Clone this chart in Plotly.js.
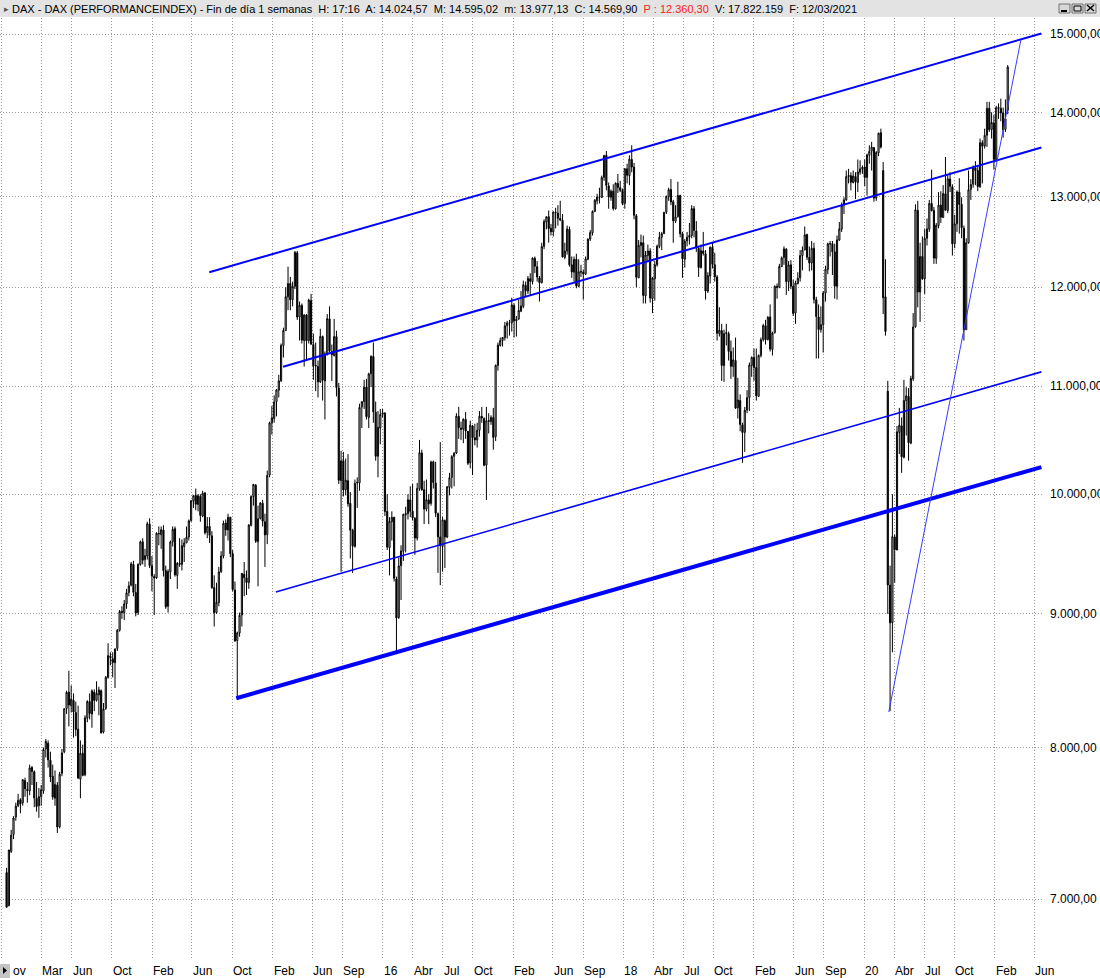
<!DOCTYPE html>
<html><head><meta charset="utf-8">
<script src="https://cdn.plot.ly/plotly-3.0.1.min.js"></script>
<style>html,body{margin:0;padding:0;background:#fff}#chart{width:1100px;height:978px}</style>
</head><body><div id="chart"></div>
<script>
// ---------------- DATA (weekly DAX bars, Friday dates from 2012-11-16) ----------------
const firstWeekFriday = '2012-11-16';
const open = [
/*2012*/ 7165,6960,7300,7410,7525,7600,7640,
/*2013*/ 7620,7770,7710,7700,7860,7830,7650,7600,7660,7700,7990,8030,7910,7800,7650,7740,7460,7820,7970,8280,8400,8300,8340,8250,8130,7780,7960,7810,8210,8330,8240,8400,8340,8380,8410,8110,8280,8510,8670,8650,8620,8730,8870,9020,9010,9080,9170,9230,9400,9170,9010,9400,
/*2014*/ 9590,9440,9470,9740,9390,9300,9290,9660,9650,9690,9350,9060,9340,9590,9700,9310,9410,9400,9550,9580,9630,9770,9940,9990,9910,9980,9810,10010,9670,9720,9640,9210,9010,9090,9340,9470,9750,9690,9800,9490,9190,8790,8850,8990,9320,9290,9250,9730,9980,10080,9590,9790,
/*2015*/ 9920,9760,9650,10170,10650,10690,10850,10960,11050,11400,11550,11900,12040,11870,12010,12370,11690,11810,11450,11710,11450,11860,11410,11200,11190,11040,11490,11050,11320,11670,11340,11300,11490,10980,10120,10300,10040,10120,9920,9690,9550,10100,10100,10800,10850,10990,10700,11120,11290,10750,10340,10600,
/*2016*/ 10730,10740,9850,9540,9760,9800,9280,8970,9390,9510,9820,9830,9950,9850,9790,9620,10050,10370,10040,9870,9950,9920,10290,10100,9830,9630,9550,9770,9630,10060,10150,10340,10370,10710,10600,10590,10680,10570,10280,10620,10510,10490,10580,10710,10690,10260,10670,10660,10700,10520,11200,11400,11450,
/*2017*/ 11480,11600,11630,11630,11810,11650,11670,11750,11800,12020,11960,12090,12060,12310,12220,12100,12050,12440,12710,12770,12640,12600,12820,12810,12750,12730,12320,12390,12630,12240,12160,12300,12010,12160,12160,12140,12300,12520,12590,12830,12950,12990,12990,13220,13480,13120,12990,13060,12860,13150,13100,13070,
/*2018*/ 12920,13320,13240,13430,13340,12780,12100,12450,12480,11910,12340,12390,11880,12090,12240,12440,12540,12580,12820,13000,13080,12940,12720,12770,13010,12580,12300,12500,12540,12560,12860,12610,12420,12210,12390,12360,11960,12120,12430,12240,12110,11520,11550,11200,11520,11520,11340,11190,11250,10790,10860,10630,
/*2019*/ 10560,10770,10890,11200,11280,11180,10900,11300,11460,11600,11460,11690,11360,11530,12010,12000,12220,12320,12410,12060,12240,12010,11730,12040,12100,12340,12400,12570,12320,12260,12420,11870,11690,11560,11610,11940,12190,12470,12470,12380,12010,12510,12630,12900,12960,13230,13240,13160,13230,13160,13280,13320,
/*2020*/ 13340,13220,13480,13530,13570,12980,13510,13750,13300,11900,10950,9230,8930,9630,9520,10560,10620,10330,10860,10900,10460,11070,11590,12840,11950,12330,12090,12530,12630,12920,12840,12310,12670,12900,12760,13030,12840,13200,13110,12470,12690,13050,12910,12640,11560,12480,13080,13140,13330,13300,13110,13630,
/*2021*/ 13590,13720,14050,13790,13870,13430,14060,14050,13990,13790,14024.57
];
const high = [
/*2012*/ 7195,7310,7440,7530,7620,7680,7650,
/*2013*/ 7780,7790,7760,7880,7870,7840,7760,7720,7740,8000,8060,8050,7970,7880,7840,7760,7830,7990,8280,8410,8560,8450,8390,8330,8300,8050,8020,8230,8340,8390,8420,8420,8480,8440,8420,8320,8520,8770,8700,8700,8730,8880,9030,9060,9110,9200,9260,9420,9430,9240,9410,9600,
/*2014*/ 9620,9530,9760,9790,9470,9320,9670,9720,9720,9730,9390,9360,9600,9720,9720,9420,9620,9610,9620,9720,9780,9950,9990,10050,10000,10000,10030,10020,9800,9800,9680,9310,9250,9380,9510,9770,9780,9830,9800,9520,9260,8860,9010,9330,9420,9350,9740,9990,10090,10090,9900,9930,
/*2015*/ 9950,9830,10210,10660,10810,10910,10970,11110,11420,11580,12000,12220,12110,12060,12390,12390,11850,11830,11720,11720,11880,11930,11520,11430,11250,11570,11500,11340,11720,11800,11410,11670,11550,11030,10390,10380,10320,10360,10020,9700,10130,10150,10830,10850,11060,11070,11130,11300,11430,10850,10760,10780,
/*2016*/ 10780,10750,10000,9800,9850,9800,9300,9460,9560,9830,9890,10000,10070,10090,9800,10100,10490,10400,10120,10130,10000,10300,10300,10290,9840,10470,9800,9780,10070,10190,10350,10380,10740,10800,10660,10690,10750,10570,10670,10630,10640,10650,10760,10800,10700,10800,10740,10720,10790,11210,11430,11480,11480,
/*2017*/ 11640,11650,11660,11890,11830,11700,11870,11960,12070,12060,12120,12150,12320,12330,12280,12120,12480,12740,12770,12840,12690,12830,12870,12900,12950,12800,12480,12670,12660,12330,12330,12360,12300,12240,12190,12330,12530,12620,12840,12970,13030,13100,13240,13480,13530,13160,13080,13140,13160,13260,13180,13090,
/*2018*/ 13330,13380,13480,13600,13390,12800,12510,12570,12560,12390,12460,12420,12110,12280,12460,12600,12600,12820,13010,13100,13200,12960,12900,13170,13020,12600,12520,12600,12700,12900,12890,12720,12430,12460,12600,12400,12160,12440,12480,12370,12130,11790,11620,11560,11620,11540,11450,11380,11480,11080,10920,10650,
/*2019*/ 10800,10960,11230,11290,11370,11370,11310,11480,11620,11660,11700,11820,11540,12020,12040,12250,12330,12440,12420,12280,12290,12080,12070,12160,12400,12440,12660,12580,12440,12500,12480,11900,11820,11800,11960,12230,12480,12500,12500,12470,12560,12710,12930,12990,13300,13320,13280,13300,13280,13430,13420,13360,
/*2020*/ 13430,13500,13600,13640,13580,13530,13750,13800,13400,12300,11050,9390,10000,9650,10620,10790,10700,11060,10990,10980,11100,11730,12910,12950,12480,12550,12630,12750,12960,13310,12880,12700,13050,13060,13130,13460,13250,13280,13140,12790,13070,13210,12990,12670,12530,13300,13200,13360,13410,13350,13680,13660,
/*2021*/ 13800,14130,14130,14000,13970,14080,14110,14170,14060,14160,14595.02
];
const low = [
/*2012*/ 6950,6955,7290,7380,7500,7590,7550,
/*2013*/ 7600,7660,7620,7670,7740,7590,7560,7520,7600,7680,7930,7860,7760,7640,7600,7420,7450,7800,7960,8240,8150,8250,8070,8080,7780,7650,7800,7800,8180,8200,8140,8260,8330,8230,8100,8100,8270,8500,8600,8510,8430,8710,8860,8960,8950,9040,9140,9220,9140,8980,8990,9390,
/*2014*/ 9400,9380,9440,9370,9180,8990,9280,9560,9530,9300,9040,9010,9280,9550,9300,9200,9380,9350,9420,9580,9600,9760,9880,9860,9850,9760,9800,9650,9620,9580,9200,8900,9000,9060,9330,9450,9640,9600,9460,9180,8780,8355,8820,8900,9140,9150,9200,9720,9900,9580,9220,9780,
/*2015*/ 9720,9380,9570,10150,10540,10650,10710,10890,11040,11280,11550,11760,11760,11800,11980,11660,11450,11420,11190,11250,11420,11410,11060,10950,10890,11030,10860,10680,11300,11330,11050,11290,10900,10090,9340,9980,9990,9890,9450,9330,9540,9880,10030,10600,10780,10680,10600,10990,10650,10300,10150,10450,
/*2016*/ 10700,9810,9520,9310,9600,9260,8700,8960,9110,9430,9500,9780,9800,9770,9480,9600,10030,10030,9740,9850,9740,9900,10050,9800,9330,9230,9340,9370,9620,9990,10050,10070,10360,10500,10490,10460,10500,10260,10230,10170,10440,10420,10520,10650,10250,9950,10550,10630,10400,10480,11150,11390,11390,
/*2017*/ 11450,11470,11500,11540,11480,11490,11660,11740,11780,11900,11930,11920,12030,12150,12060,11850,12040,12410,12630,12480,12560,12550,12640,12670,12720,12320,12300,12350,12220,12100,12060,11990,12000,12110,11870,12130,12290,12500,12560,12820,12910,12920,12980,13180,13070,12860,12950,12840,12850,13040,13050,12900,
/*2018*/ 12860,13150,13130,13280,12740,12000,12100,12320,11830,11830,12270,11840,11730,11860,12220,12420,12400,12580,12800,12950,12900,12480,12700,12760,12540,12100,12210,12440,12460,12530,12540,12380,12110,12200,12340,11870,11940,12040,12200,12060,11450,11490,11050,11040,11400,11250,11070,11090,10780,10690,10570,10280,
/*2019*/ 10380,10740,10760,11090,11050,10860,10900,11280,11440,11410,11450,11340,11300,11520,11880,11990,12220,12240,11920,11960,11980,11700,11620,12030,12060,12180,12400,12290,12170,12180,11830,11270,11270,11530,11330,11850,12140,12330,12130,11880,11870,12500,12600,12800,12950,13150,13070,13150,12970,13050,13250,13260,
/*2020*/ 13120,13010,13380,13300,12940,12950,13470,13560,11720,11500,9000,8260,8700,9250,9520,10360,10190,10320,10530,10300,10450,11050,11580,11790,11640,12080,11930,12450,12600,12830,12250,12250,12640,12700,12760,12840,12810,13050,12340,12420,12600,12580,12530,11450,11560,12470,12960,13100,13130,13060,13100,13150,
/*2021*/ 13560,13580,13760,13680,13310,13400,13920,13890,13690,13760,13977.13
];
const close = [
/*2012*/ 6950,7309,7405,7518,7597,7636,7612,
/*2013*/ 7776,7715,7702,7857,7833,7652,7594,7661,7708,7986,8043,7913,7795,7658,7744,7459,7814,7962,8278,8398,8305,8348,8254,8128,7789,7959,7806,8212,8331,8244,8410,8338,8391,8416,8103,8276,8510,8675,8661,8622,8725,8870,9018,9010,9078,9168,9225,9405,9172,9006,9400,9589,
/*2014*/ 9435,9473,9743,9392,9306,9289,9662,9657,9692,9350,9056,9342,9588,9695,9315,9409,9401,9556,9581,9629,9768,9943,9987,9912,9987,9815,10009,9666,9720,9644,9210,9009,9092,9339,9470,9747,9691,9799,9490,9195,8788,8850,8988,9326,9291,9252,9732,9980,10087,9594,9787,9923,
/*2015*/ 9765,9648,10167,10649,10694,10846,10963,11050,11402,11551,11901,12040,11868,12010,12375,11689,11811,11454,11709,11447,11865,11413,11197,11197,11041,11492,11058,11316,11673,11347,11308,11490,10985,10124,10298,10038,10124,9916,9688,9553,10096,10104,10795,10850,10988,10708,11119,11293,10752,10340,10608,10727,
/*2016*/ 10743,9849,9545,9764,9798,9286,8967,9388,9513,9824,9831,9950,9851,9794,9622,10051,10373,10039,9870,9952,9916,10287,10103,9834,9631,9558,9776,9630,10066,10147,10337,10367,10713,10604,10588,10684,10573,10276,10627,10511,10490,10580,10711,10696,10259,10668,10664,10700,10513,11203,11404,11450,11481,
/*2017*/ 11599,11629,11630,11815,11651,11666,11757,11804,12027,11963,12095,12064,12313,12225,12109,12049,12438,12717,12770,12638,12602,12823,12816,12753,12733,12325,12389,12632,12240,12163,12298,12014,12165,12168,12143,12304,12519,12592,12829,12956,12992,12991,13217,13479,13127,12994,13060,12862,13154,13104,13072,12918,
/*2018*/ 13320,13245,13434,13340,12785,12107,12452,12483,11914,12346,12390,11886,12097,12241,12442,12540,12580,12820,13001,13078,12938,12724,12767,13011,12580,12306,12496,12541,12561,12861,12616,12425,12211,12394,12364,11960,12124,12431,12247,12111,11524,11554,11201,11519,11529,11341,11193,11257,10788,10866,10634,10559,
/*2019*/ 10768,10888,11205,11282,11181,10907,11300,11458,11602,11458,11686,11364,11526,12010,11999,12222,12315,12413,12060,12239,12011,11727,12045,12096,12340,12399,12568,12323,12260,12419,11872,11694,11562,11612,11939,12192,12469,12468,12381,12013,12512,12634,12895,12961,13229,13242,13164,13236,13167,13283,13319,13337,
/*2020*/ 13219,13483,13526,13577,12982,13514,13745,13579,11890,11542,9232,8929,9633,9525,10565,10626,10336,10861,10905,10465,11074,11587,12848,11949,12331,12089,12528,12633,12920,12838,12313,12674,12901,12765,13033,12843,13203,13116,12469,12689,13051,12909,12646,11556,12480,13077,13137,13335,13299,13114,13631,13587,
/*2021*/ 13719,14049,13788,13874,13433,14057,14050,13993,13786,13920,14569.90
];

// hand-drawn trend lines (date, price) at both ends
const trendStartDate  = ['2014-07-24','2015-03-05','2015-02-11','2014-10-14','2020-03-16'];
const trendStartPrice = [12160, 11189, 9174, 8355, 8254];
const trendEndDate    = ['2021-06-22','2021-06-22','2021-06-22','2021-06-22','2021-04-21'];
const trendEndPrice   = [15006, 13572, 11138, 10242, 14925];

// axis ticks (the first label is partly hidden behind the scroll button: only "ov" shows)
const monthGridDates = ['2012-11-01','2013-03-01','2013-06-01','2013-10-01','2014-02-01','2014-06-01','2014-10-01','2015-02-01','2015-06-01','2015-09-01','2016-01-01','2016-04-01','2016-07-01','2016-10-01','2017-02-01','2017-06-01','2017-09-01','2018-01-01','2018-04-01','2018-07-01','2018-10-01','2019-02-01','2019-06-01','2019-09-01','2020-01-01','2020-04-01','2020-07-01','2020-10-01','2021-02-01','2021-06-01'];
const monthLabels = ['ov','Mar','Jun','Oct','Feb','Jun','Oct','Feb','Jun','Sep','16','Abr','Jul','Oct','Feb','Jun','Sep','18','Abr','Jul','Oct','Feb','Jun','Sep','20','Abr','Jul','Oct','Feb','Jun'];
const priceTicks = [7000,8000,9000,10000,11000,12000,13000,14000,15000];
const priceTickLabels = ['7.000,00','8.000,00','9.000,00','10.000,00','11.000,00','12.000,00','13.000,00','14.000,00','15.000,00'];

const headerText = 'DAX - DAX (PERFORMANCEINDEX) - Fin de día 1 semanas  H: 17:16  A: 14.024,57  M: 14.595,02  m: 13.977,13  C: 14.569,90  <span style="color:#ff2020">P : 12.360,30</span>  V: 17.822.159  F: 12/03/2021';

// ---------------- BUILD ----------------
const dates = [];
(function(){
  let t = Date.parse(firstWeekFriday + 'T00:00:00Z');
  for (let i = 0; i < close.length; i++) { dates.push(new Date(t).toISOString().slice(0,10)); t += 7*86400000; }
})();

const W = 1100, H = 978;
const M = {l:0, r:57, t:18, b:18};
const PW = W - M.l - M.r, PH = H - M.t - M.b;
const px2x = p => (p - M.l) / PW;          // pixel -> paper (decorations only)
const px2y = p => (H - M.b - p) / PH;

const FONT = 'Liberation Sans, Arial, Helvetica, sans-serif';
const traces = [];
traces.push({
  type:'candlestick', x:dates, open:open, high:high, low:low, close:close,
  increasing:{line:{color:'#000000', width:1}, fillcolor:'#ffffff'},
  decreasing:{line:{color:'#000000', width:1}, fillcolor:'#000000'},
  whiskerwidth:0, hoverinfo:'skip', showlegend:false
});
const trendWidths = [2, 2, 1.6, 4, 1];
const trendColors = ['#0000ff','#0000ff','#0000ff','#0000ff','#3a3aff'];
for (let i = 0; i < trendStartDate.length; i++) {
  traces.push({type:'scatter', mode:'lines', x:[trendStartDate[i], trendEndDate[i]], y:[trendStartPrice[i], trendEndPrice[i]],
    line:{color:trendColors[i], width:trendWidths[i]}, hoverinfo:'skip', showlegend:false, cliponaxis:false});
}

const annotations = monthGridDates.map((d,i) => (i === 0 ? {
  x:px2x(11), xref:'paper', y:0, yref:'paper', xanchor:'left', yanchor:'top', yshift:-2,
  text:monthLabels[i], showarrow:false, font:{family:FONT, size:12, color:'#000'}
} : {
  x:d, xref:'x', y:0, yref:'paper', xanchor:'left', yanchor:'top', yshift:-2, xshift:-1,
  text:monthLabels[i], showarrow:false, font:{family:FONT, size:12, color:'#000'}
}));
// small triangle in title bar
annotations.push({x:px2x(2), xref:'paper', y:px2y(9), yref:'paper', xanchor:'left', yanchor:'middle',
  text:'▸', showarrow:false, font:{family:FONT,size:9,color:'#555'}});

const shapes = [
  {type:'rect', xref:'paper', yref:'paper', x0:px2x(0), x1:px2x(1100), y0:px2y(17), y1:px2y(0), fillcolor:'#e3e3e3', line:{width:0}, layer:'below'},
  // scroll button bottom-left
  {type:'rect', xref:'paper', yref:'paper', x0:px2x(0), x1:px2x(10), y0:px2y(978), y1:px2y(964), fillcolor:'#c4c4c4', line:{width:0}, layer:'above'},
  {type:'path', xref:'paper', yref:'paper', path:'M '+px2x(3)+' '+px2y(967)+' L '+px2x(7)+' '+px2y(970.5)+' L '+px2x(3)+' '+px2y(974)+' Z', fillcolor:'#000', line:{width:0}, layer:'above'}
];
// window buttons
[1059, 1072, 1085].forEach((bx) => {
  shapes.push({type:'rect', xref:'paper', yref:'paper', x0:px2x(bx), x1:px2x(bx+11), y0:px2y(13), y1:px2y(4), fillcolor:'#d8d8d8', line:{color:'#707070', width:1}});
});
shapes.push({type:'line', xref:'paper', yref:'paper', x0:px2x(1061), x1:px2x(1067), y0:px2y(11), y1:px2y(11), line:{color:'#000', width:2}});
shapes.push({type:'rect', xref:'paper', yref:'paper', x0:px2x(1074), x1:px2x(1081), y0:px2y(11), y1:px2y(6), line:{color:'#000', width:1}});
shapes.push({type:'line', xref:'paper', yref:'paper', x0:px2x(1087), x1:px2x(1094), y0:px2y(11), y1:px2y(5), line:{color:'#000', width:1.5}});
shapes.push({type:'line', xref:'paper', yref:'paper', x0:px2x(1087), x1:px2x(1094), y0:px2y(5), y1:px2y(11), line:{color:'#000', width:1.5}});

const layout = {
  width:W, height:H, margin:{l:M.l, r:M.r, t:M.t, b:M.b, pad:0, autoexpand:false},
  paper_bgcolor:'#ffffff', plot_bgcolor:'#ffffff', showlegend:false, hovermode:false,
  title:{text:headerText, x:12/W, xanchor:'left', xref:'container', y:1-9/H, yanchor:'middle', yref:'container',
    font:{family:FONT, size:11, color:'#000'}},
  xaxis:{type:'date', range:['2012-10-27','2021-06-27'], tickvals:monthGridDates, showticklabels:false, ticks:'',
    showgrid:true, gridcolor:'#9a9a9a', griddash:'1px,2px', gridwidth:1, zeroline:false, showline:false,
    rangeslider:{visible:false}, fixedrange:true, automargin:false},
  yaxis:{type:'log', side:'right', range:[Math.log10(6634), Math.log10(15213)], tickvals:priceTicks, ticktext:priceTickLabels,
    ticks:'', ticklabelstandoff:6, showgrid:true, gridcolor:'#9a9a9a', griddash:'1px,2px', gridwidth:1, zeroline:false, showline:false,
    tickfont:{family:FONT, size:12, color:'#000'}, fixedrange:true, automargin:false},
  annotations:annotations, shapes:shapes
};
Plotly.newPlot('chart', traces, layout, {displayModeBar:false, staticPlot:true});
</script>
</body></html>
